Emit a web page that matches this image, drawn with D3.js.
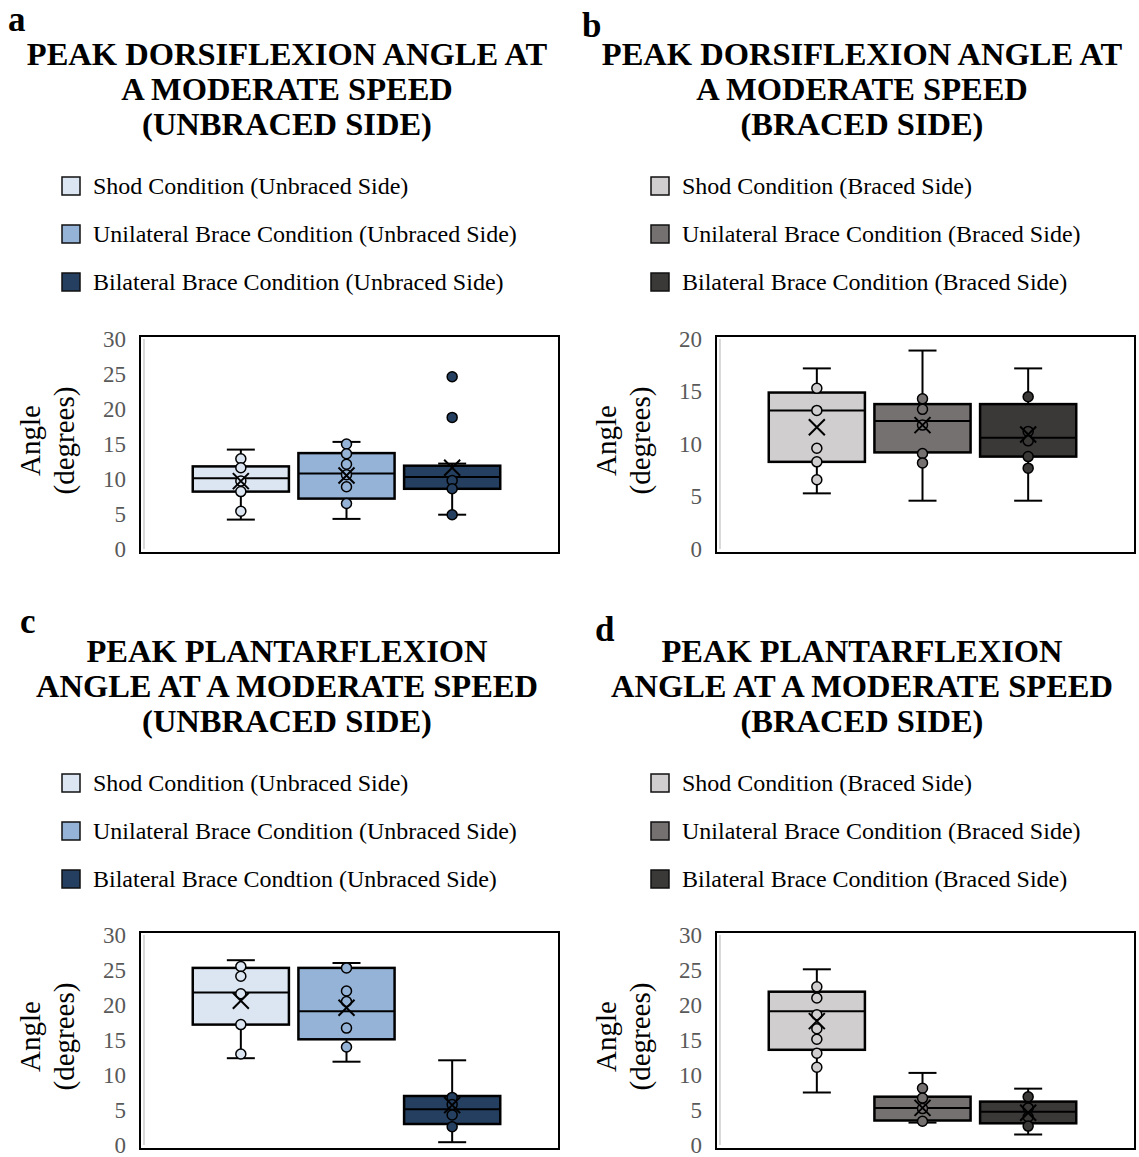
<!DOCTYPE html>
<html>
<head>
<meta charset="utf-8">
<script src="https://cdn.jsdelivr.net/npm/d3@7"></script>
<style>
  body { margin: 0; background: #fff; }
  svg { display: block; font-family: "Liberation Serif", "Times New Roman", serif; }
</style>
</head>
<body>
<div id="chart"></div>
<script>
var width = 1139, height = 1157;

// ---- data ----
var titlesA = ["PEAK DORSIFLEXION ANGLE AT", "A MODERATE SPEED", "(UNBRACED SIDE)"],
    titlesB = ["PEAK DORSIFLEXION ANGLE AT", "A MODERATE SPEED", "(BRACED SIDE)"],
    titlesC = ["PEAK PLANTARFLEXION", "ANGLE AT A MODERATE SPEED", "(UNBRACED SIDE)"],
    titlesD = ["PEAK PLANTARFLEXION", "ANGLE AT A MODERATE SPEED", "(BRACED SIDE)"];

var legendA = ["Shod Condition (Unbraced Side)", "Unilateral Brace Condition (Unbraced Side)", "Bilateral Brace Condition (Unbraced Side)"],
    legendB = ["Shod Condition (Braced Side)", "Unilateral Brace Condition (Braced Side)", "Bilateral Brace Condition (Braced Side)"],
    legendC = ["Shod Condition (Unbraced Side)", "Unilateral Brace Condition (Unbraced Side)", "Bilateral Brace Condtion (Unbraced Side)"],
    legendD = ["Shod Condition (Braced Side)", "Unilateral Brace Condition (Braced Side)", "Bilateral Brace Condition (Braced Side)"];

var blues = ["#dce6f2", "#95b3d7", "#243f60"],
    greys = ["#d0cece", "#767171", "#3b3838"];

var ticks30 = [0, 5, 10, 15, 20, 25, 30],
    ticks20 = [0, 5, 10, 15, 20];

// box stats per series: [whisker low, Q1, median, Q3, whisker high]
var statsA = [[4.2, 8.2, 10.1, 11.8, 14.2], [4.3, 7.2, 10.8, 13.7, 15.3], [4.9, 8.6, 10.3, 11.9, 12.2]],
    meansA = [9.7, 10.5, 11.6],
    pointsA = [[12.9, 11.6, 9.7, 8.2, 5.4], [15.0, 13.6, 12.1, 10.6, 8.9, 6.5], [9.8, 8.6, 4.9]],
    outliersA = [[], [], [24.6, 18.8]];

var statsB = [[5.3, 8.3, 13.2, 14.9, 17.2], [4.6, 9.2, 12.2, 13.8, 18.9], [4.6, 8.8, 10.6, 13.8, 17.2]],
    meansB = [11.6, 11.8, 10.9],
    pointsB = [[15.3, 13.2, 9.6, 8.3, 6.6], [14.3, 13.3, 11.8, 9.1, 8.2], [14.5, 11.2, 10.3, 8.8, 7.7]],
    outliersB = [[], [], []];

var statsC = [[12.4, 17.2, 21.8, 25.3, 26.4], [11.9, 15.1, 19.1, 25.3, 26.0], [0.4, 3.0, 5.1, 7.0, 12.1]],
    meansC = [20.6, 19.6, 5.7],
    pointsC = [[25.5, 24.1, 21.6, 17.2, 13.0], [25.3, 22.0, 20.5, 16.7, 14.0], [6.8, 5.8, 4.3, 2.6]],
    outliersC = [[], [], []];

var statsD = [[7.5, 13.6, 19.1, 21.9, 25.1], [3.2, 3.5, 5.3, 6.9, 10.3], [1.5, 3.1, 4.75, 6.2, 8.05]],
    meansD = [17.7, 5.3, 4.6],
    pointsD = [[22.6, 21.0, 18.6, 16.6, 15.1, 13.1, 11.1], [8.1, 6.7, 5.2, 3.4], [6.9, 5.3, 4.0, 2.7]],
    outliersD = [[], [], []];

// ---- layout ----
var panels = [
  {letter: "a", lx: 8,   ly: 31,  cx: 287, ty: 65,  legX: 62,  legY: 186, fx: 140, fy: 336,
   titles: titlesA, legend: legendA, colors: blues, max: 30, ticks: ticks30,
   stats: statsA, means: meansA, points: pointsA, outliers: outliersA},
  {letter: "b", lx: 582, ly: 37,  cx: 862, ty: 65,  legX: 651, legY: 186, fx: 716, fy: 336,
   titles: titlesB, legend: legendB, colors: greys, max: 20, ticks: ticks20,
   stats: statsB, means: meansB, points: pointsB, outliers: outliersB},
  {letter: "c", lx: 20,  ly: 633, cx: 287, ty: 662, legX: 62,  legY: 783, fx: 140, fy: 932,
   titles: titlesC, legend: legendC, colors: blues, max: 30, ticks: ticks30,
   stats: statsC, means: meansC, points: pointsC, outliers: outliersC},
  {letter: "d", lx: 595, ly: 641, cx: 862, ty: 662, legX: 651, legY: 783, fx: 716, fy: 932,
   titles: titlesD, legend: legendD, colors: greys, max: 30, ticks: ticks30,
   stats: statsD, means: meansD, points: pointsD, outliers: outliersD}
];

var fw = 419, fh = 217;

var svg = d3.select("#chart").append("svg")
    .attr("width", width)
    .attr("height", height);

panels.forEach(drawPanel);

function drawPanel(p) {
  var g = svg.append("g");

  g.append("text")
      .attr("x", p.lx).attr("y", p.ly)
      .attr("font-size", 35).attr("font-weight", "bold")
      .text(p.letter);

  g.selectAll(".title")
    .data(p.titles)
    .enter().append("text")
      .attr("x", p.cx)
      .attr("y", function(d, i) { return p.ty + i * 35; })
      .attr("text-anchor", "middle")
      .attr("font-size", 32.5).attr("font-weight", "bold")
      .text(function(d) { return d; });

  // legend
  var leg = g.selectAll(".leg")
    .data(p.legend)
    .enter().append("g")
      .attr("transform", function(d, i) { return "translate(" + p.legX + "," + (p.legY + i * 48) + ")"; });
  leg.append("rect")
      .attr("x", 0).attr("y", -9).attr("width", 18).attr("height", 18)
      .attr("fill", function(d, i) { return p.colors[i]; })
      .attr("stroke", "#111").attr("stroke-width", 1.5);
  leg.append("text")
      .attr("x", 31).attr("y", 8)
      .attr("font-size", 24)
      .text(function(d) { return d; });

  // scales
  var y = d3.scaleLinear().domain([0, p.max]).range([p.fy + 213, p.fy + 3]);
  var x = d3.scaleBand().domain([0, 1, 2])
      .range([p.fx + 48, p.fx + 365])
      .paddingInner(0.09).paddingOuter(0.045);

  // frame + faint axis line
  g.append("rect")
      .attr("x", p.fx).attr("y", p.fy).attr("width", fw).attr("height", fh)
      .attr("fill", "none").attr("stroke", "#000").attr("stroke-width", 2);
  g.append("line")
      .attr("x1", p.fx + 4).attr("x2", p.fx + 4)
      .attr("y1", y(p.max)).attr("y2", y(0))
      .attr("stroke", "#d9d9d9").attr("stroke-width", 2);

  var yAxis = d3.axisLeft(y).tickValues(p.ticks).tickSize(0).tickPadding(0);
  var ax = g.append("g")
      .attr("transform", "translate(" + (p.fx - 14) + ",0)")
      .call(yAxis);
  ax.select(".domain").remove();
  ax.selectAll("text")
      .attr("font-family", "Liberation Serif, serif")
      .attr("font-size", 23)
      .attr("fill", "#595959");

  // axis title
  var ymid = p.fy + fh / 2 - 4;
  g.append("text")
      .attr("transform", "translate(" + (p.fx - 100) + "," + ymid + ") rotate(-90)")
      .attr("text-anchor", "middle").attr("font-size", 29)
      .text("Angle");
  g.append("text")
      .attr("transform", "translate(" + (p.fx - 66) + "," + ymid + ") rotate(-90)")
      .attr("text-anchor", "middle").attr("font-size", 29)
      .text("(degrees)");

  // boxes
  p.stats.forEach(function(s, i) {
    var x0 = x(i), bw = x.bandwidth(), xc = x0 + bw / 2, cap = 14;
    var b = g.append("g");
    b.append("line")
        .attr("x1", xc).attr("x2", xc).attr("y1", y(s[0])).attr("y2", y(s[4]))
        .attr("stroke", "#000").attr("stroke-width", 2);
    b.selectAll(".cap")
      .data([s[0], s[4]])
      .enter().append("line")
        .attr("x1", xc - cap).attr("x2", xc + cap)
        .attr("y1", function(d) { return y(d); })
        .attr("y2", function(d) { return y(d); })
        .attr("stroke", "#000").attr("stroke-width", 2);
    b.append("rect")
        .attr("x", x0).attr("width", bw)
        .attr("y", y(s[3])).attr("height", y(s[1]) - y(s[3]))
        .attr("fill", p.colors[i]).attr("stroke", "#000").attr("stroke-width", 2.5);
    b.append("line")
        .attr("x1", x0).attr("x2", x0 + bw).attr("y1", y(s[2])).attr("y2", y(s[2]))
        .attr("stroke", "#000").attr("stroke-width", 2);

    b.selectAll(".pt")
      .data(p.points[i].concat(p.outliers[i]))
      .enter().append("circle")
        .attr("cx", xc).attr("cy", function(d) { return y(d); })
        .attr("r", 5)
        .attr("fill", p.colors[i]).attr("stroke", "#000").attr("stroke-width", 1.5);

    var m = y(p.means[i]), k = 8;
    b.append("path")
        .attr("d", "M" + (xc - k) + "," + (m - k) + "L" + (xc + k) + "," + (m + k) +
                   "M" + (xc + k) + "," + (m - k) + "L" + (xc - k) + "," + (m + k))
        .attr("stroke", "#000").attr("stroke-width", 2).attr("fill", "none");
  });
}
</script>
</body>
</html>
